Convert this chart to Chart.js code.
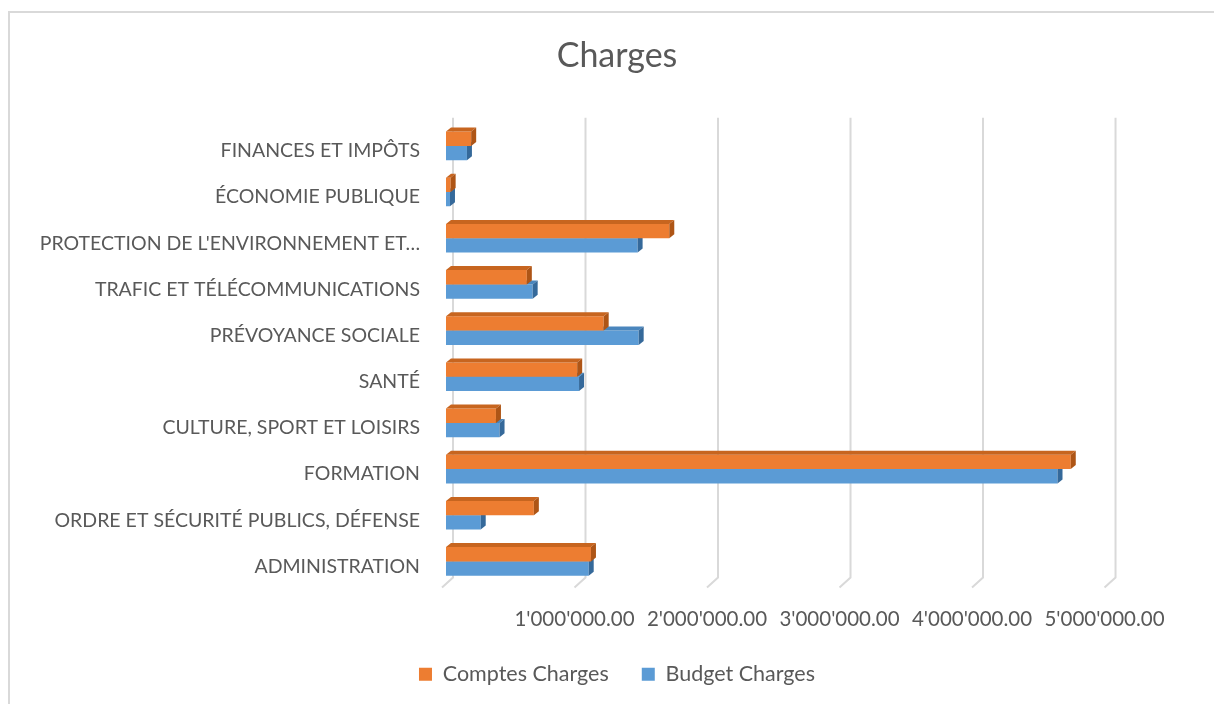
<!DOCTYPE html>
<html>
<head>
<meta charset="utf-8">
<script src="https://cdn.jsdelivr.net/npm/chart.js@4"></script>
<style>
  html, body { margin:0; padding:0; background:#fff; overflow:hidden; }
  #frame { position:absolute; left:8px; top:11px; width:1220px; height:710px; border:2px solid #d9d9d9; box-sizing:border-box; }
  #wrap { position:absolute; left:0; top:0; width:1214px; height:704px; }
</style>
</head>
<body>
<div id="frame"></div>
<div id="wrap"><canvas id="chart"></canvas></div>
<script>
// ----- data -----
const categories = [
  "FINANCES ET IMPÔTS",
  "ÉCONOMIE PUBLIQUE",
  "PROTECTION DE L'ENVIRONNEMENT ET…",
  "TRAFIC ET TÉLÉCOMMUNICATIONS",
  "PRÉVOYANCE SOCIALE",
  "SANTÉ",
  "CULTURE, SPORT ET LOISIRS",
  "FORMATION",
  "ORDRE ET SÉCURITÉ PUBLICS, DÉFENSE",
  "ADMINISTRATION"
];
const comptesCharges = [190000, 35000, 1685000, 610000, 1190000, 990000, 377000, 4715000, 663000, 1094000];
const budgetCharges  = [158000, 30000, 1446000, 654000, 1454000, 1004000, 404000, 4615000, 262000, 1077000];
const tickValues = [0, 1000000, 2000000, 3000000, 4000000, 5000000];
// axis runs past the last gridline (Excel leaves room on the right)
const AXIS_MAX = 5796000;

const FONT = "Lato, 'Open Sans', sans-serif";
const GREY = "#595959";

// 1'000'000.00 style
function fmt(v){
  const s = Math.round(v).toString().replace(/\B(?=(\d{3})+(?!\d))/g, "'");
  return s + ".00";
}

// ----- 3D look -----
const shade = {
  0: { top:"#c7651f", side:"#ae5516" },
  1: { top:"#4a86bd", side:"#35699a" }
};
const DX = 5, DY = -4;

const bar3d = {
  id:"bar3d",
  afterDatasetDraw(chart, args){
    const ctx = chart.ctx;
    const c = shade[args.index];
    args.meta.data.forEach(el => {
      const p = el.getProps(["x","y","base","height"], true);
      const top = p.y - p.height/2, bot = p.y + p.height/2;
      ctx.save();
      ctx.fillStyle = c.top;
      ctx.beginPath();
      ctx.moveTo(p.base, top); ctx.lineTo(p.base+DX, top+DY);
      ctx.lineTo(p.x+DX, top+DY); ctx.lineTo(p.x, top); ctx.closePath(); ctx.fill();
      ctx.fillStyle = c.side;
      ctx.beginPath();
      ctx.moveTo(p.x, top); ctx.lineTo(p.x+DX, top+DY);
      ctx.lineTo(p.x+DX, bot+DY); ctx.lineTo(p.x, bot); ctx.closePath(); ctx.fill();
      ctx.restore();
    });
  }
};

// slanted back-wall gridlines
const wallGrid = {
  id:"wallGrid",
  beforeDatasetsDraw(chart){
    const ctx = chart.ctx, xs = chart.scales.x, a = chart.chartArea;
    ctx.save();
    ctx.strokeStyle = "#d9d9d9"; ctx.lineWidth = 2;
    tickValues.forEach(v => {
      const x = xs.getPixelForValue(v);
      ctx.beginPath();
      ctx.moveTo(x+7, a.top-5);
      ctx.lineTo(x+7, a.bottom-7);
      ctx.lineTo(x-4, a.bottom+3);
      ctx.stroke();
    });
    ctx.restore();
  }
};

new Chart(document.getElementById("chart"), {
  type:"bar",
  data:{
    labels:categories,
    datasets:[
      { label:"Comptes Charges", data:comptesCharges, backgroundColor:"#ed7d31", categoryPercentage:0.62, barPercentage:1 },
      { label:"Budget Charges",  data:budgetCharges,  backgroundColor:"#5b9bd5", categoryPercentage:0.62, barPercentage:1 }
    ]
  },
  plugins:[wallGrid, bar3d],
  options:{
    indexAxis:"y",
    responsive:true,
    maintainAspectRatio:false,
    animation:false,
    layout:{ padding:{ left:20, right:0, top:0, bottom:9 } },
    plugins:{
      title:{ display:true, text:"Charges", color:GREY, font:{ family:FONT, size:34, weight:"normal" }, padding:{ top:36, bottom:46 } },
      legend:{
        position:"bottom",
        labels:{ color:GREY, font:{ family:FONT, size:21.5 }, boxWidth:13, boxHeight:13, padding:33 }
      },
      tooltip:{ enabled:false }
    },
    scales:{
      x:{
        min:0, max:AXIS_MAX,
        afterBuildTicks(s){ s.ticks = tickValues.map(v => ({ value:v })); },
        grid:{ display:false, drawTicks:false },
        border:{ display:false },
        ticks:{ color:GREY, font:{ family:FONT, size:20.5 }, padding:23, maxRotation:0, labelOffset:-4,
          callback:v => v === 0 ? "" : fmt(v) },
        afterFit(s){ s.height = 46; }
      },
      y:{
        grid:{ display:false, drawTicks:false },
        border:{ display:false },
        ticks:{ color:GREY, font:{ family:FONT, size:19.5 }, padding:26, autoSkip:false, labelOffset:5 },
        afterFit(s){ s.width = 426; }
      }
    }
  }
});
</script>
</body>
</html>
